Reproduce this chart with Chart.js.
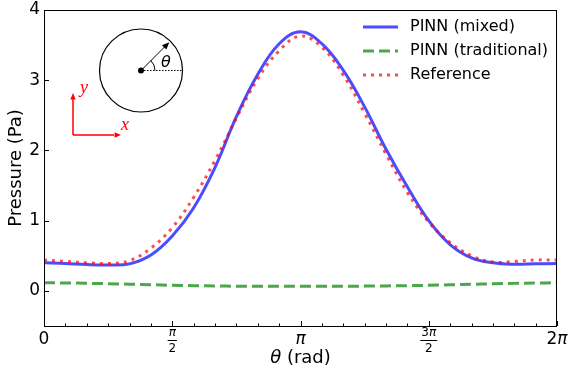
<!DOCTYPE html>
<html>
<head>
<meta charset="utf-8">
<script src="https://cdn.jsdelivr.net/npm/chart.js@4/dist/chart.umd.min.js"></script>
<style>
  html, body { margin: 0; padding: 0; background: #fff; }
  #wrap { width: 571px; height: 374px; }
</style>
</head>
<body>
<div id="wrap"><canvas id="myChart" width="571" height="374"></canvas></div>
<script>
// theta in units of pi (0 .. 2)
var thetaPi = [0, 0.083, 0.167, 0.25, 0.333, 0.417, 0.5, 0.583, 0.667, 0.75, 0.833, 0.917, 1.0,
  1.083, 1.167, 1.25, 1.333, 1.417, 1.5, 1.583, 1.667, 1.75, 1.833, 1.917, 2.0];

var mixedValues = [0.40, 0.39, 0.375, 0.37, 0.385, 0.51, 0.78, 1.18, 1.76, 2.48, 3.08, 3.52, 3.69,
  3.52, 3.14, 2.62, 2.02, 1.48, 1.00, 0.66, 0.47, 0.40, 0.38, 0.385, 0.39];
var traditionalValues = [0.115, 0.113, 0.108, 0.102, 0.095, 0.088, 0.080, 0.074, 0.070, 0.067, 0.065, 0.065, 0.065,
  0.065, 0.066, 0.068, 0.071, 0.075, 0.080, 0.087, 0.094, 0.101, 0.107, 0.112, 0.115];
var referenceValues = [0.44, 0.42, 0.40, 0.39, 0.43, 0.61, 0.90, 1.33, 1.86, 2.46, 3.02, 3.42, 3.63,
  3.47, 3.07, 2.53, 1.95, 1.40, 0.98, 0.69, 0.50, 0.41, 0.42, 0.44, 0.44];

var seriesNames = ["PINN (mixed)", "PINN (traditional)", "Reference"];

var xTickValues = [0, 0.5, 1, 1.5, 2]; // in units of pi
var xTickNum = ["0", "π", "π", "3π", "2π"];
var xTickDen = [null, "2", null, "2", null];
var yTickValues = [0, 1, 2, 3, 4];

function toPoints(vals) {
  return vals.map(function (v, i) {
    return { x: thetaPi[i] * Math.PI, y: v };
  });
}

var FONT = "DejaVu Sans";

function arrowHead(ctx, x0, y0, x1, y1, size, color) {
  var a = Math.atan2(y1 - y0, x1 - x0);
  ctx.fillStyle = color;
  ctx.beginPath();
  ctx.moveTo(x1, y1);
  ctx.lineTo(x1 - size * Math.cos(a - 0.4), y1 - size * Math.sin(a - 0.4));
  ctx.lineTo(x1 - size * Math.cos(a + 0.4), y1 - size * Math.sin(a + 0.4));
  ctx.closePath();
  ctx.fill();
}

// text where every "π" is set in italic, centred on x
function mathText(ctx, str, x, y, size) {
  var parts = str.split(/(π)/).filter(function (s) { return s.length; });
  var widths = parts.map(function (p) {
    ctx.font = (p === "π" ? "italic " : "") + size + "px " + FONT;
    return ctx.measureText(p).width;
  });
  var total = widths.reduce(function (a, b) { return a + b; }, 0);
  var cx = x - total / 2;
  ctx.textAlign = "left";
  parts.forEach(function (p, i) {
    ctx.font = (p === "π" ? "italic " : "") + size + "px " + FONT;
    ctx.fillText(p, cx, y);
    cx += widths[i];
  });
  return total;
}

var decor = {
  id: "decor",
  afterDraw: function (chart) {
    var ctx = chart.ctx;
    var area = chart.chartArea;
    var xs = chart.scales.x;
    var ys = chart.scales.y;
    ctx.save();

    // frame
    ctx.strokeStyle = "#000";
    ctx.lineWidth = 1;
    ctx.setLineDash([]);
    ctx.strokeRect(area.left + 0.5, area.top + 0.5, area.right - area.left - 1, area.bottom - area.top);

    // ticks, pointing in
    ctx.beginPath();
    for (var k = 0; k <= 24; k++) {
      var px = Math.round(xs.getPixelForValue(k * Math.PI / 12)) + 0.5;
      var len = (k % 6 === 0) ? 5 : 2.5;
      ctx.moveTo(px, area.bottom);
      ctx.lineTo(px, area.bottom - len);
    }
    yTickValues.forEach(function (v) {
      var py = Math.round(ys.getPixelForValue(v)) + 0.5;
      ctx.moveTo(area.left, py);
      ctx.lineTo(area.left + 5, py);
    });
    ctx.stroke();

    // y tick labels
    ctx.fillStyle = "#000";
    ctx.font = "17px " + FONT;
    ctx.textAlign = "right";
    ctx.textBaseline = "middle";
    yTickValues.forEach(function (v) {
      ctx.fillText(String(v), area.left - 4, ys.getPixelForValue(v));
    });

    // x tick labels
    xTickValues.forEach(function (v, i) {
      var px = xs.getPixelForValue(v * Math.PI);
      if (xTickDen[i]) {
        var w = mathText(ctx, xTickNum[i], px, area.bottom + 7, 12);
        ctx.font = "12px " + FONT;
        ctx.textAlign = "center";
        ctx.fillText(xTickDen[i], px, area.bottom + 23);
        ctx.fillRect(px - w / 2 - 1, area.bottom + 14, w + 2, 1);
      } else {
        mathText(ctx, xTickNum[i], px, area.bottom + 14, 17);
      }
    });

    // x axis title
    var cx = (area.left + area.right) / 2;
    ctx.font = "italic 18px " + FONT;
    var w1 = ctx.measureText("θ").width;
    ctx.font = "18px " + FONT;
    var w2 = ctx.measureText(" (rad)").width;
    var sx = cx - (w1 + w2) / 2;
    ctx.textAlign = "left";
    ctx.font = "italic 18px " + FONT;
    ctx.fillText("θ", sx, 358);
    ctx.font = "18px " + FONT;
    ctx.fillText(" (rad)", sx + w1, 358);

    // y axis title
    ctx.save();
    ctx.translate(16, (area.top + area.bottom) / 2);
    ctx.rotate(-Math.PI / 2);
    ctx.textAlign = "center";
    ctx.fillText("Pressure (Pa)", 0, 0);
    ctx.restore();

    // inset: circle with angle
    var ccx = 141, ccy = 70.5, r = 41.5;
    ctx.strokeStyle = "#000";
    ctx.lineWidth = 1.2;
    ctx.beginPath();
    ctx.arc(ccx, ccy, r, 0, Math.PI * 2);
    ctx.stroke();
    ctx.fillStyle = "#000";
    ctx.beginPath();
    ctx.arc(ccx, ccy, 3, 0, Math.PI * 2);
    ctx.fill();
    ctx.lineWidth = 1;
    ctx.setLineDash([1.5, 1.5]);
    ctx.beginPath();
    ctx.moveTo(ccx, ccy);
    ctx.lineTo(ccx + r, ccy);
    ctx.stroke();
    ctx.setLineDash([]);
    var tx = ccx + r * Math.cos(Math.PI / 4) - 1, ty = ccy - r * Math.sin(Math.PI / 4) + 1;
    ctx.beginPath();
    ctx.moveTo(ccx, ccy);
    ctx.lineTo(tx - 3, ty + 3);
    ctx.stroke();
    arrowHead(ctx, ccx, ccy, tx, ty, 8, "#000");
    ctx.beginPath();
    ctx.arc(ccx, ccy, 14, -Math.PI / 4, 0);
    ctx.stroke();
    ctx.font = "italic 16px " + FONT;
    ctx.textAlign = "center";
    ctx.fillText("θ", 166, 63);

    // inset: red xy axes
    ctx.strokeStyle = "#f00";
    ctx.lineWidth = 1.5;
    ctx.beginPath();
    ctx.moveTo(73, 135);
    ctx.lineTo(73, 99);
    ctx.moveTo(73, 135);
    ctx.lineTo(114, 135);
    ctx.stroke();
    arrowHead(ctx, 73, 135, 73, 93, 7, "#f00");
    arrowHead(ctx, 73, 135, 121, 135, 7, "#f00");
    ctx.fillStyle = "#f00";
    ctx.font = "italic 18px 'Liberation Serif'";
    ctx.fillText("y", 84, 88);
    ctx.fillText("x", 125, 125);

    // legend
    ctx.textAlign = "left";
    ctx.font = "16px " + FONT;
    var rows = [27, 51, 75];
    chart.data.datasets.forEach(function (ds, i) {
      ctx.strokeStyle = ds.borderColor;
      ctx.lineWidth = ds.borderWidth;
      ctx.lineCap = "butt";
      ctx.setLineDash(ds.borderDash || []);
      ctx.beginPath();
      ctx.moveTo(363, rows[i]);
      ctx.lineTo(398, rows[i]);
      ctx.stroke();
      ctx.setLineDash([]);
      ctx.fillStyle = "#000";
      ctx.fillText(ds.label, 410, rows[i]);
    });

    ctx.restore();
  },
};

new Chart("myChart", {
  type: "line",
  data: {
    datasets: [
      {
        label: seriesNames[0],
        data: toPoints(mixedValues),
        borderColor: "rgba(0,0,255,0.7)",
        borderWidth: 3,
        borderDash: [],
        order: 3,
      },
      {
        label: seriesNames[1],
        data: toPoints(traditionalValues),
        borderColor: "rgba(0,128,0,0.7)",
        borderWidth: 3,
        borderDash: [11, 5],
        order: 2,
      },
      {
        label: seriesNames[2],
        data: toPoints(referenceValues),
        borderColor: "rgba(255,0,0,0.7)",
        borderWidth: 3,
        borderDash: [3, 5],
        order: 1,
      },
    ],
  },
  options: {
    responsive: false,
    animation: false,
    layout: { padding: { left: 44, right: 14, top: 10, bottom: 48 } },
    elements: {
      point: { radius: 0 },
      line: { tension: 0.4, fill: false, borderCapStyle: "butt" },
    },
    scales: {
      x: { type: "linear", min: 0, max: 2 * Math.PI, display: false },
      y: { type: "linear", min: -0.5, max: 4, display: false },
    },
    plugins: {
      legend: { display: false },
      tooltip: { enabled: false },
    },
  },
  plugins: [decor],
});
</script>
</body>
</html>
